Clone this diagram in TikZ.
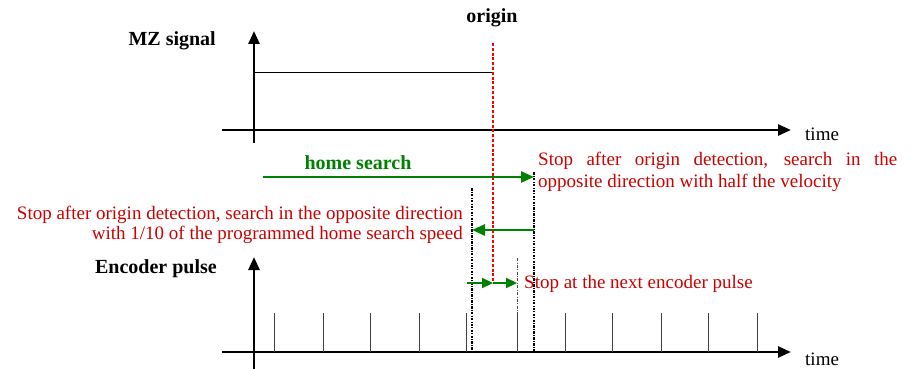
\documentclass[tikz,border=0pt]{standalone}
\usepackage{fontspec}
\setmainfont{Liberation Serif}
\usetikzlibrary{arrows.meta}
\definecolor{dgreen}{RGB}{0,128,0}
\definecolor{dred}{RGB}{204,0,0}
\tikzset{
  axis/.style={line width=2.6pt,-{Triangle[length=13pt,width=11pt]}},
  sig/.style={line width=0.9pt},
  pulse/.style={line width=0.9pt,black!75},
  garrow/.style={line width=2.6pt,dgreen,-{Triangle[length=13pt,width=11pt]}},
  sgarrow/.style={line width=2.2pt,dgreen,-{Triangle[length=11pt,width=10pt]}},
  blackdot/.style={line width=2.4pt,dash pattern=on 2.5pt off 1.2pt on 1pt off 1.2pt},
  reddash/.style={line width=1.5pt,red,dash pattern=on 3pt off 1.8pt},
  thindd/.style={line width=0.7pt,black!70,dash pattern=on 3pt off 1.5pt on 0.8pt off 1.5pt},
  lbl/.style={font=\fontsize{20}{22}\selectfont\bfseries,inner sep=0pt},
  tlbl/.style={font=\fontsize{19}{21}\selectfont,inner sep=0pt},
  rtxt/.style={font=\fontsize{19}{22}\selectfont,text=dred,inner sep=0pt}
}
\begin{document}
\begin{tikzpicture}[x=1pt,y=-1pt]
\useasboundingbox (0,0) rectangle (911,369);
% top axes
\coordinate (t0) at (222,130);
\coordinate (t1) at (791,130);
\coordinate (v0) at (254,143);
\coordinate (v1) at (254,31);
\draw[axis] (t0) -- (t1);
\draw[axis] (v0) -- (v1);
\node[tlbl,anchor=base west] (time1) at (805,140) {time};
\node[lbl,anchor=base east] (mz) at (216,46) {MZ signal};
\node[lbl,anchor=base] (origin) at (492,23) {origin};
% MZ signal
\coordinate (s0) at (254,72);
\coordinate (s1) at (492,72);
\draw[sig] (s0) -- (s1);
% bottom axes
\coordinate (b0) at (222,352);
\coordinate (b1) at (791,352);
\coordinate (w0) at (254,369);
\coordinate (w1) at (254,257);
\draw[axis] (b0) -- (b1);
\draw[axis] (w0) -- (w1);
\node[tlbl,anchor=base west] (time2) at (805,365) {time};
\node[lbl,anchor=base east] (enc) at (217,273) {Encoder pulse};
% pulses
\foreach \x [count=\i] in {274,323,370,419,466,517,565,612,661,708,757}{
  \coordinate (p\i a) at (\x,313);
  \coordinate (p\i b) at (\x,352);
  \draw[pulse] (p\i a) -- (p\i b);
}
\coordinate (p6t) at (517,258);
\draw[thindd] (p6t) -- (p6a);
% dotted black lines
\coordinate (dr0) at (534,172);
\coordinate (dr1) at (534,351);
\coordinate (dl0) at (472,188);
\coordinate (dl1) at (472,351);
\draw[blackdot] (dr0) -- (dr1);
\draw[blackdot] (dl0) -- (dl1);
% red origin line
\coordinate (r0) at (493,43);
\coordinate (r1) at (493,283);
\draw[reddash] (r0) -- (r1);
% green arrows
\coordinate (h0) at (263,177);
\coordinate (h1) at (534,177);
\draw[garrow] (h0) -- (h1);
\node[lbl,text=dgreen,anchor=base] (hs) at (358,169) {home search};
\coordinate (k0) at (534,230);
\coordinate (k1) at (472,230);
\draw[garrow] (k0) -- (k1);
\coordinate (m0) at (467,283);
\coordinate (m2) at (517,283);
\draw[sgarrow] (m0) -- (r1);
\draw[sgarrow] (r1) -- (m2);
% red texts
\node[rtxt,anchor=north west,text width=359pt,align=justify] (rt) at (538,151.5)
  {Stop after origin detection, search in the\linebreak opposite direction with half the velocity};
\node[rtxt,anchor=north east,align=right,font=\fontsize{19}{20.5}\selectfont] (lt) at (463,205.5)
  {Stop after origin detection, search in the opposite direction\\with 1/10 of the programmed home search speed};
\node[rtxt,anchor=base west] (nt) at (524,288) {Stop at the next encoder pulse};
\end{tikzpicture}
\end{document}
